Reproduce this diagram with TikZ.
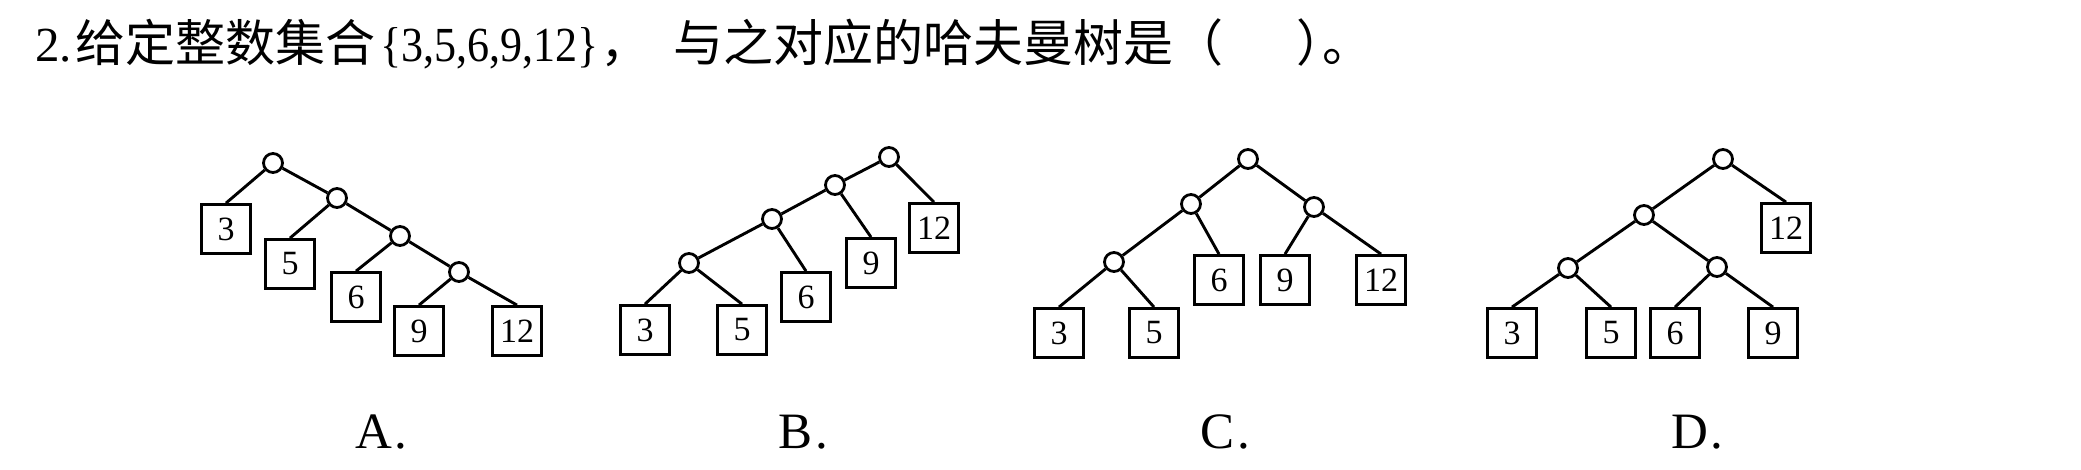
\documentclass[tikz,border=0pt]{standalone}
\usepackage{fontspec}
\setmainfont{Liberation Serif}
\newfontfamily\cjk{Noto Sans CJK SC}
\begin{document}
\begin{tikzpicture}[x=1pt,y=-1pt,
  inner/.style={circle,draw,line width=2.8pt,minimum size=19pt,inner sep=0pt,fill=white},
  leaf/.style={rectangle,draw,line width=2.8pt,minimum size=49pt,inner sep=0pt,font=\fontsize{34}{34}\selectfont},
  edge/.style={line width=2.9pt},
  lat/.style={inner sep=0pt,anchor=base west,font=\fontsize{49}{49}\selectfont},
  cjkt/.style={inner sep=0pt,anchor=base west,font=\fontsize{50}{50}\selectfont\cjk},
  lab/.style={inner sep=0pt,anchor=base west,font=\fontsize{51}{51}\selectfont}]
\useasboundingbox[fill=white] (0,0) rectangle (2081,469);
% title
\node[lat] (t1) at (35,61) {2.};
\node[cjkt] (t2) at (75,61) {给定整数集合};
\node[lat] (t3) at (380,61) {\scalebox{0.9}[1]{\{3,5,6,9,12\}}};
\node[cjkt] (t4) at (600,61) {，};
\node[cjkt] (t5) at (673,61) {与之对应的哈夫曼树是（};
\node[cjkt] (t6) at (1296,61) {）};
\node[cjkt] (t7) at (1322,61) {。};
% tree A
\node[inner] (rA) at (273,163) {};
\node[inner] (a2) at (337,198) {};
\node[inner] (a3) at (400,236) {};
\node[inner] (a4) at (459,272) {};
\node[leaf] (a3b) at (226,229) {3};
\node[leaf] (a5b) at (290,264) {5};
\node[leaf] (a6b) at (356,297) {6};
\node[leaf] (a9b) at (419,331) {9};
\node[leaf] (a12b) at (517,331) {12};
\draw[edge] (rA) -- (a3b.north);
\draw[edge] (rA) -- (a2);
\draw[edge] (a2) -- (a5b.north);
\draw[edge] (a2) -- (a3);
\draw[edge] (a3) -- (a6b.north);
\draw[edge] (a3) -- (a4);
\draw[edge] (a4) -- (a9b.north);
\draw[edge] (a4) -- (a12b.north);
% tree B
\node[inner] (rB) at (889,157) {};
\node[inner] (b2) at (835,185) {};
\node[inner] (b3) at (772,219) {};
\node[inner] (b4) at (689,263) {};
\node[leaf] (b3b) at (645,330) {3};
\node[leaf] (b5b) at (742,330) {5};
\node[leaf] (b6b) at (806,297) {6};
\node[leaf] (b9b) at (871,263) {9};
\node[leaf] (b12b) at (934,228) {12};
\draw[edge] (rB) -- (b2);
\draw[edge] (rB) -- (b12b.north);
\draw[edge] (b2) -- (b3);
\draw[edge] (b2) -- (b9b.north);
\draw[edge] (b3) -- (b4);
\draw[edge] (b3) -- (b6b.north);
\draw[edge] (b4) -- (b3b.north);
\draw[edge] (b4) -- (b5b.north);
% tree C
\node[inner] (rC) at (1248,159) {};
\node[inner] (cL) at (1191,204) {};
\node[inner] (cR) at (1314,207) {};
\node[inner] (cLL) at (1114,262) {};
\node[leaf] (c3b) at (1059,333) {3};
\node[leaf] (c5b) at (1154,333) {5};
\node[leaf] (c6b) at (1219,280) {6};
\node[leaf] (c9b) at (1285,280) {9};
\node[leaf] (c12b) at (1381,280) {12};
\draw[edge] (rC) -- (cL);
\draw[edge] (rC) -- (cR);
\draw[edge] (cL) -- (cLL);
\draw[edge] (cL) -- (c6b.north);
\draw[edge] (cLL) -- (c3b.north);
\draw[edge] (cLL) -- (c5b.north);
\draw[edge] (cR) -- (c9b.north);
\draw[edge] (cR) -- (c12b.north);
% tree D
\node[inner] (rD) at (1723,159) {};
\node[inner] (dL) at (1644,215) {};
\node[inner] (dLL) at (1568,268) {};
\node[inner] (dLR) at (1717,267) {};
\node[leaf] (d12b) at (1786,228) {12};
\node[leaf] (d3b) at (1512,333) {3};
\node[leaf] (d5b) at (1611,333) {5};
\node[leaf] (d6b) at (1675,333) {6};
\node[leaf] (d9b) at (1773,333) {9};
\draw[edge] (rD) -- (dL);
\draw[edge] (rD) -- (d12b.north);
\draw[edge] (dL) -- (dLL);
\draw[edge] (dL) -- (dLR);
\draw[edge] (dLL) -- (d3b.north);
\draw[edge] (dLL) -- (d5b.north);
\draw[edge] (dLR) -- (d6b.north);
\draw[edge] (dLR) -- (d9b.north);
% labels
\node[lab] (lA) at (355,448) {A\kern3pt.};
\node[lab] (lB) at (778,448) {B\kern3pt.};
\node[lab] (lC) at (1200,448) {C\kern3pt.};
\node[lab] (lD) at (1671,448) {D\kern3pt.};
\end{tikzpicture}
\end{document}
